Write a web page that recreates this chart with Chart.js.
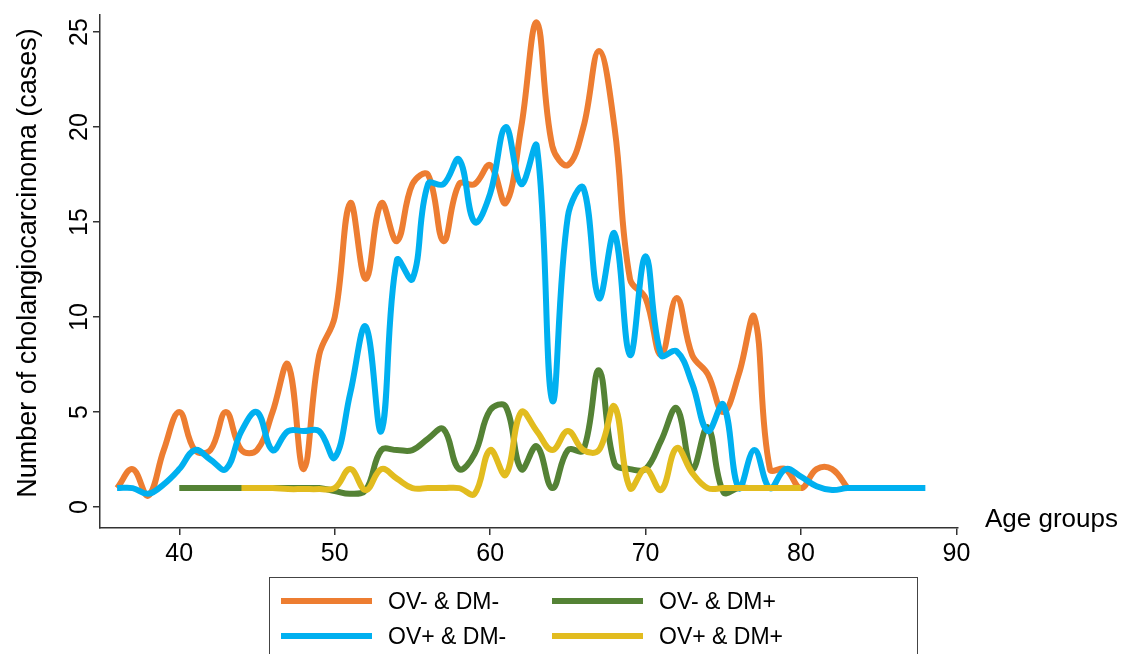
<!DOCTYPE html>
<html><head><meta charset="utf-8">
<script src="https://cdn.jsdelivr.net/npm/chart.js@4.4.1/dist/chart.umd.min.js"></script>
<style>
html,body{margin:0;padding:0;background:#fff;overflow:hidden}
#wrap{position:relative;width:1138px;height:654px}
canvas{display:block}
#legend{position:absolute;left:269px;top:577px;width:649px;height:120px;border:1.5px solid #444;box-sizing:border-box;font-family:"Liberation Sans",Arial,sans-serif;font-size:23px;color:#000}
.item{position:absolute;height:30px;line-height:30px;white-space:nowrap}
.swatch{position:absolute;left:0;top:12px;width:91px;height:6px}
.lbl{position:absolute;left:107px;top:0}
</style></head>
<body>
<div id="wrap">
<canvas id="c" width="1138" height="654"></canvas>
<div id="legend"></div>
</div>
<script>
// ---- data ----
const ageGroups = [36,37,38,39,40,41,42,43,44,45,46,47,48,49,50,51,52,53,54,55,56,57,58,59,60,61,62,63,64,65,66,67,68,69,70,71,72,73,74,75,76,77,78,79,80,81,82,83,84,85,86,87,88];
const ovNegDmNeg = [1,2,0.6,3,5,3,3,5,3,3,5,7.5,2,8,10,16,12,16,14,17,17.5,14,17,17,18,16,20,25.5,19,18,20,24,20,12,11,8,11,8,7,5,7,10,2,2,1,2,2,1,null,null,null,null,null];
const ovPosDmNeg = [1,1,0.7,1.2,2,3,2.5,2,4,5,3,4,4,4,2.6,6,9.5,4,13,12,17,17,18.3,15,16.5,20,17,19,5.6,15.3,16.8,11,14.4,8,13.2,8,8.2,6.5,4,5.4,1,3,1,2,1.6,1.1,0.9,1,1,1,1,1,1];
const ovNegDmPos = [null,null,null,null,1,1,1,1,1,1,1,1,1,1,0.85,0.7,0.9,3,3,3,3.6,4.1,2,2.8,5.1,5.3,2,3.2,1,3,3,7.2,2.3,2,2,3.5,5.2,2,4.2,0.8,1,1,1,1,1,null,null,null,null,null,null,null,null];
const ovPosDmPos = [null,null,null,null,null,null,null,null,1,1,1,0.95,0.95,0.95,1,2,0.9,2,1.5,1,1,1,1,0.7,3,1.7,5,4,3,4,3,3,5.3,1,2,0.9,3.1,1.8,1,1,1,1,1,1,1,null,null,null,null,null,null,null,null];
const seriesNames = ["OV- & DM-","OV+ & DM-","OV- & DM+","OV+ & DM+"];
const xTickValues = [40,50,60,70,80,90];
const yTickValues = [0,5,10,15,20,25];
const xTitle = "Age groups";
const yTitle = "Number of cholangiocarcinoma (cases)";

const colors = ["#ED7D31","#00B0F0","#548235","#E2BC1F"];
const FONT = '"Liberation Sans", Arial, sans-serif';

function pts(vals){
  const out=[];
  vals.forEach((v,i)=>{ if(v!==null) out.push({x:ageGroups[i], y:v}); });
  return out;
}
const allSeries=[ovNegDmNeg, ovPosDmNeg, ovNegDmPos, ovPosDmPos];
const drawOrder=[3,1,2,0]; // orange bottom, then green, blue, yellow on top

const datasets = allSeries.map((s,i)=>({
  label: seriesNames[i],
  data: pts(s),
  borderColor: colors[i],
  backgroundColor: colors[i],
  borderWidth: 6,
  pointRadius: 0,
  tension: 0.4,
  fill: false,
  order: drawOrder[i],
  borderCapStyle:'butt',
  borderJoinStyle:'round'
}));

const textPlugin = {
  id:'texts',
  afterDraw(chart){
    const ctx=chart.ctx, ys=chart.scales.y;
    ctx.save();
    ctx.fillStyle='#000';
    ctx.textAlign='center'; ctx.textBaseline='middle';
    ctx.font='25px '+FONT;
    yTickValues.forEach(v=>{
      const py=ys.getPixelForValue(v);
      ctx.save(); ctx.translate(80,py); ctx.rotate(-Math.PI/2); ctx.fillText(String(v),0,0); ctx.restore();
    });
    ctx.font='27px '+FONT;
    ctx.save(); ctx.translate(29,263); ctx.rotate(-Math.PI/2); ctx.fillText(yTitle,0,0); ctx.restore();
    ctx.font='26px '+FONT;
    ctx.textAlign='left';
    ctx.fillText(xTitle,985,520);
    ctx.restore();
  }
};

new Chart(document.getElementById('c'),{
  type:'line',
  data:{datasets},
  options:{
    responsive:false, animation:false, devicePixelRatio:1,
    layout:{padding:{left:90,right:180,top:15,bottom:86}},
    plugins:{legend:{display:false},tooltip:{enabled:false}},
    scales:{
      x:{type:'linear',min:34.9,max:90.1,
        afterBuildTicks:s=>{s.ticks=xTickValues.map(v=>({value:v}));},
        afterFit:s=>{s.height=40;},
        ticks:{color:'#000',font:{size:25,family:FONT},padding:4,maxRotation:0,autoSkip:false},
        grid:{drawOnChartArea:false,drawTicks:true,tickLength:7,color:'#333',lineWidth:1.5},
        border:{display:true,color:'#333',width:1.5}
      },
      y:{type:'linear',min:-1.1,max:25.9,
        afterBuildTicks:s=>{s.ticks=yTickValues.map(v=>({value:v}));},
        afterFit:s=>{s.width=10;},
        ticks:{display:false},
        grid:{drawOnChartArea:false,drawTicks:true,tickLength:7,color:'#333',lineWidth:1.5},
        border:{display:true,color:'#333',width:1.5}
      }
    }
  },
  plugins:[textPlugin]
});

// legend (2 columns, row-wise like the reference)
const legendPos=[[11,8],[11,43],[282,8],[282,43]];
const lg=document.getElementById('legend');
seriesNames.forEach((n,i)=>{
  const d=document.createElement('div'); d.className='item';
  d.style.left=legendPos[i][0]+'px'; d.style.top=legendPos[i][1]+'px';
  d.innerHTML='<div class="swatch" style="background:'+colors[i]+'"></div><span class="lbl">'+n+'</span>';
  lg.appendChild(d);
});
</script>
</body></html>
